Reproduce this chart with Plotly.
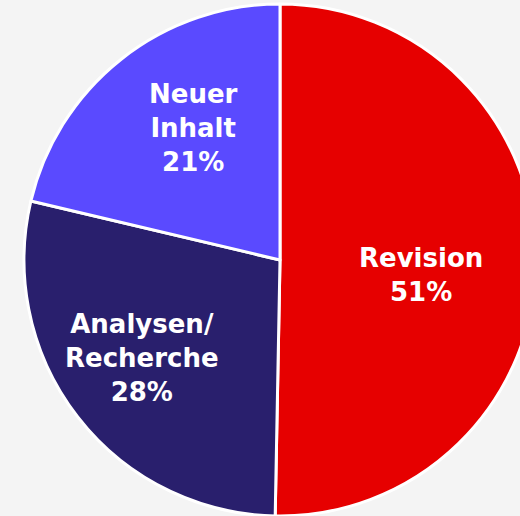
import plotly.graph_objects as go

# Data
categories = ["Revision", "Analysen/<br>Recherche", "Neuer<br>Inhalt"]
slice_values = [50.3, 28.4, 21.3]          # slice sizes as drawn
percent_labels = ["51%", "28%", "21%"]     # percentages printed on the chart
colors = ["#E60000", "#291F6D", "#5A4AFF"]

W, H = 560, 516
ML, MR, MT, MB = 24, 24, 4, 0
PW, PH = W - ML - MR, H - MT - MB

# label centre positions (pixels in the page)
label_px = [(421, 275), (142, 358), (193, 128)]

fig = go.Figure(go.Pie(
    labels=categories,
    values=slice_values,
    sort=False,
    direction="clockwise",
    rotation=0,
    marker=dict(colors=colors, line=dict(color="white", width=3)),
    textinfo="none",
    hoverinfo="label",
    showlegend=False,
))

for cat, pct, (px, py) in zip(categories, percent_labels, label_px):
    fig.add_annotation(
        x=(px - ML) / PW, y=1 - (py - MT) / PH,
        xref="paper", yref="paper",
        text=f"{cat}<br>{pct}",
        showarrow=False,
        xanchor="center", yanchor="middle",
        align="center",
        font=dict(family="DejaVu Sans", size=26, color="white", weight="bold"),
    )

fig.update_layout(
    width=W, height=H,
    margin=dict(l=ML, r=MR, t=MT, b=MB),
    paper_bgcolor="#F4F4F4",
    plot_bgcolor="#F4F4F4",
)

fig.write_html(
    "out.html",
    config={"displayModeBar": False},
    post_script="document.body.style.margin='0';document.body.style.overflow='hidden';document.documentElement.style.overflow='hidden';",
)
